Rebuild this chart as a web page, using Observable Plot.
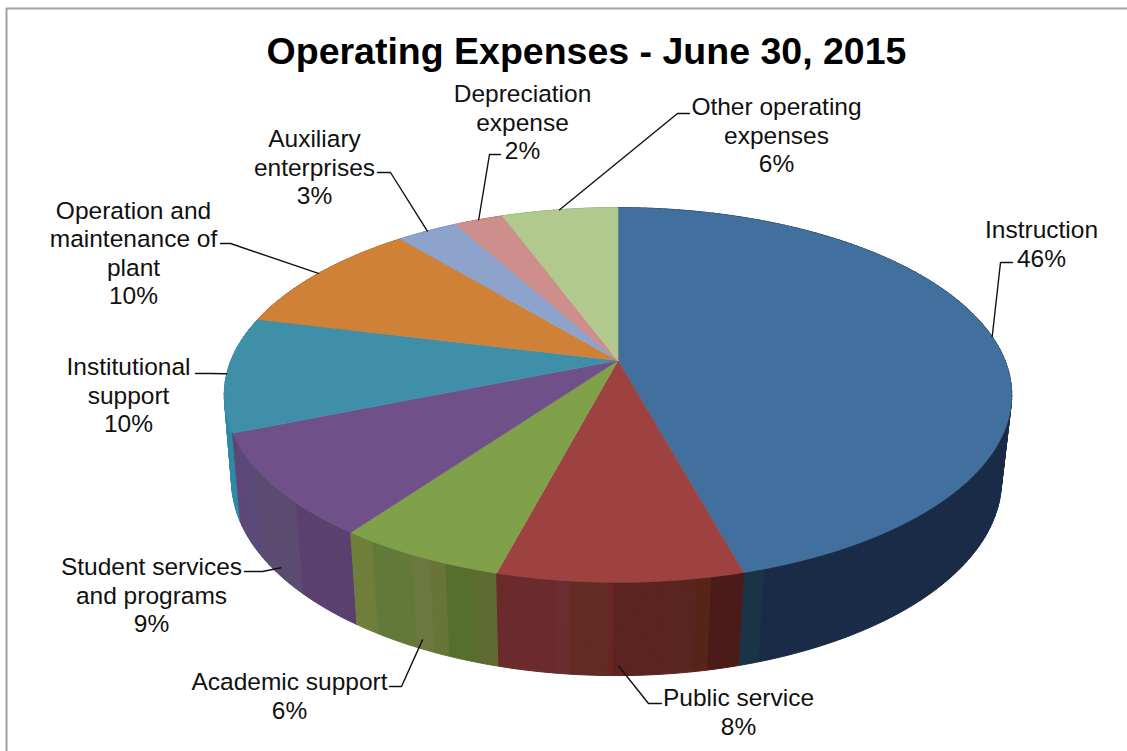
<!DOCTYPE html>
<html>
<head>
<meta charset="utf-8">
<script src="https://cdn.jsdelivr.net/npm/d3@7"></script>
<script src="https://cdn.jsdelivr.net/npm/@observablehq/plot@0.6"></script>
<style>
html,body{margin:0;padding:0;background:#fff;overflow:hidden}
svg{display:block}
</style>
</head>
<body>
<div id="chart"></div>
<script>
const titleText = "Operating Expenses - June 30, 2015";
const categories = ["Instruction","Public service","Academic support","Student services and programs","Institutional support","Operation and maintenance of plant","Auxiliary enterprises","Depreciation expense","Other operating expenses"];
const shares = [45.7, 8.45, 5.85, 8.9, 9.9, 10.1, 3.0, 2.4, 5.7];
const labelLines = ["Instruction","Public service","Academic support","Student services\nand programs","Institutional\nsupport","Operation and\nmaintenance of\nplant","Auxiliary\nenterprises","Depreciation\nexpense","Other operating\nexpenses"];

// styles
const topColors = ["#41709f","#9e4241","#81a04a","#6f5089","#3f8fa9","#d08138","#8da3cc","#ce8e8c","#b2c98e"];
const wallBands = [
  [["#1a2b47",98.4],["#1a3347",1.6]],
  [["#4c1a18",34],["#562419",15],["#5a2420",33],["#5c2320",48],["#6a2424",5],["#622b24",39],["#6a2e30",15],["#6b2a2b",60]],
  [["#5e6a30",18],["#566f2e",28],["#687537",15],["#6c7840",17],["#62793a",42],["#6f7f3b",25]],
  [["#5a406f",33],["#5c4b70",36],["#594a7b",15],["#5d4777",16]],
  [["#2f8aa4",1]],[["#9a5f28",1]],[["#69799a",1]],[["#9a6a69",1]],[["#85966a",1]]
];
// layout, in chart units
const topDisc = {x:617.5, y:360, a:387, b:181, k:0.184};
const baseDisc = {x:616, y:446, a:379, b:189, k:0.175};
const labelSpots = [[1041,243],[738,711],[289,695],[151,594],[128,394],[133,252],[314,166],[522,121],[776,134]];
const leaderWall = [0,0.9,0.9,0.9,0,0,0,0,0];
const leaderBends = [
  [[1000,262],[1012,262]],[[648,703],[661,703]],[[401,686],[389,686]],[[262,571],[244,571]],
  [[210,373],[195,373]],[[230,243],[220,243]],[[390,172],[377,172]],[[489,154],[500,154]],[[677,113],[689,113]]
];

const project = (disc, pct) => {
  const t = pct / 100 * 2 * Math.PI, u = Math.sin(t), v = -Math.cos(t), d = 1 - disc.k * v;
  return {x: disc.x + disc.a * u / d, y: disc.y + disc.b * v / d, v};
};
const range = (a, b, n) => d3.range(n + 1).map(i => a + (b - a) * i / n);

let cum = 0;
const slices = categories.map((name, i) => {
  const start = cum; cum += shares[i];
  return {name, i, start, end: cum, mid: (start + cum) / 2};
});

// top face polygons (closed)
const topPts = slices.flatMap(s => {
  const apex = {id: s.i, color: topColors[s.i], x: topDisc.x, y: topDisc.y};
  return [apex,
    ...range(s.start, s.end, Math.max(6, Math.ceil(shares[s.i] * 3))).map(p => ({id: s.i, color: topColors[s.i], ...project(topDisc, p)})),
    apex];
});

// side wall: narrow closed quads, painted back to front
const quads = slices.flatMap(s => {
  const total = d3.sum(wallBands[s.i], b => b[1]);
  let w = s.start;
  return wallBands[s.i].flatMap(([color, weight], j) => {
    const a0 = w; w += shares[s.i] * weight / total;
    const ps = range(a0, w, Math.max(1, Math.ceil((w - a0) * 3)));
    return ps.slice(1).map((p, q) => ({key: `${s.i}-${j}-${q}`, color, a0: ps[q], a1: p}));
  });
}).map(f => ({...f, depth: project(topDisc, (f.a0 + f.a1) / 2).v})).sort((a, b) => a.depth - b.depth);
const wallPts = quads.flatMap(f =>
  [project(topDisc, f.a0), project(topDisc, f.a1), project(baseDisc, f.a1), project(baseDisc, f.a0), project(topDisc, f.a0)]
    .map(p => ({id: f.key, color: f.color, x: p.x, y: p.y})));

// leaders start on the rim at each slice's middle
const leaderPts = slices.flatMap(s => {
  const a = project(topDisc, s.mid), b = project(baseDisc, s.mid), w = leaderWall[s.i];
  const start = {x: a.x + (b.x - a.x) * w, y: a.y + (b.y - a.y) * w};
  return [start, ...leaderBends[s.i].map(([x, y]) => ({x, y}))].map(p => ({id: s.i, ...p}));
});

const labels = slices.map(s => ({
  text: labelLines[s.i] + "\n" + Math.round(shares[s.i]) + "%",
  x: labelSpots[s.i][0], y: labelSpots[s.i][1]
}));
const border = [{x:1127,y:8},{x:6,y:8},{x:6,y:751}];

const chart = Plot.plot({
  width: 1127, height: 751,
  margin: 0,
  x: {domain:[0,1127], range:[0,1127], axis:null},
  y: {domain:[0,751], range:[0,751], axis:null},
  color: {type:"identity"},
  style: {fontFamily:'"Liberation Sans", Arial, sans-serif', background:"#fff"},
  marks: [
    Plot.line(border, {x:"x", y:"y", stroke:"#a2a2a2", strokeWidth:2}),
    Plot.line(wallPts, {x:"x", y:"y", z:"id", fill:"color", stroke:"color", strokeWidth:1}),
    Plot.line(topPts, {x:"x", y:"y", z:"id", fill:"color", stroke:"color", strokeWidth:0.6}),
    Plot.line(leaderPts, {x:"x", y:"y", z:"id", stroke:"#111", strokeWidth:1.4}),
    Plot.text(labels, {x:"x", y:"y", text:"text", fontSize:24.5, lineHeight:1.155, fill:"#111", textAnchor:"middle", lineAnchor:"middle"}),
    Plot.text([titleText], {x:()=>586, y:()=>51, text:d=>d, fontSize:37.5, fontWeight:"bold", fill:"#000", textAnchor:"middle", lineAnchor:"middle"})
  ]
});
document.getElementById("chart").appendChild(chart);
</script>
</body>
</html>
